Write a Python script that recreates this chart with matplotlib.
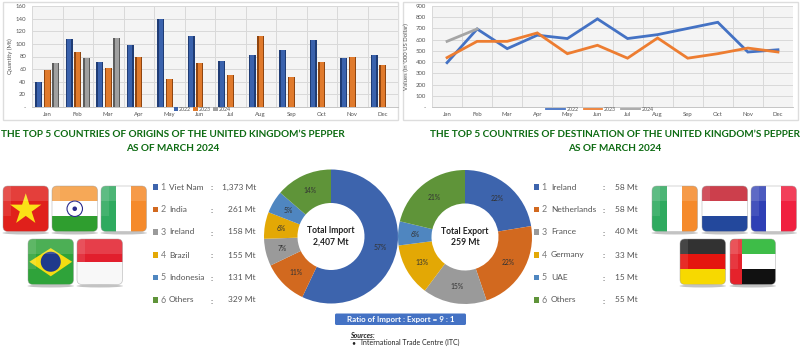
import numpy as np
import matplotlib
matplotlib.use("Agg")
import matplotlib.pyplot as plt
from matplotlib.patches import FancyBboxPatch, Rectangle, Polygon, Circle, Ellipse

plt.rcParams['font.family'] = ['Lato', 'DejaVu Sans']
plt.rcParams['hatch.linewidth'] = 0.3
plt.rcParams['hatch.color'] = '#d0d0d0'

months = ["Jan", "Feb", "Mar", "Apr", "May", "Jun", "Jul", "Aug", "Sep", "Oct", "Nov", "Dec"]

# quantity (Mt)
qty_2022 = [39, 107, 72, 98, 139, 113, 73, 83, 91, 106, 77, 82]
qty_2023 = [58, 87, 62, 80, 45, 69, 51, 113, 48, 72, 79, 67]
qty_2024 = [70, 77, 110]

# values ('000 US Dollar)
val_2022 = [395, 695, 520, 640, 610, 785, 610, 645, 700, 755, 490, 510]
val_2023 = [440, 585, 585, 660, 475, 550, 435, 615, 435, 475, 525, 490]
val_2024 = [585, 695]

import_names = ["Viet Nam", "India", "Ireland", "Brazil", "Indonesia", "Others"]
import_mt = [1373, 261, 158, 155, 131, 329]
export_names = ["Ireland", "Netherlands", "France", "Germany", "UAE", "Others"]
export_mt = [58, 58, 40, 33, 15, 55]

BLUE = "#3d64ad"
ORANGE = "#d2691f"
GRAY = "#9a9a9a"
GOLD = "#e3a805"
LBLUE = "#4f86c0"
GREEN = "#5f9439"
pie_colors = [BLUE, ORANGE, GRAY, GOLD, LBLUE, GREEN]
TITLE_GREEN = "#0d6b12"
TXT = "#555555"


def px_axes(fig, x0, y0, x1, y1, **kw):
    return fig.add_axes([x0 / 800, 1 - y1 / 360, (x1 - x0) / 800, (y1 - y0) / 360], **kw)


fig = plt.figure(figsize=(8, 3.6), dpi=100, facecolor="white")

# full figure layer in pixel coordinates, for frames, text and flags
bg = px_axes(fig, 0, 0, 800, 360)
bg.set_xlim(0, 800)
bg.set_ylim(360, 0)
bg.axis("off")

bg.add_patch(Rectangle((3, 2), 395, 118, fc="white", ec="#dddddd", lw=1))
bg.add_patch(Rectangle((403, 2), 395, 118, fc="white", ec="#dddddd", lw=1))


def style_chart(ax, ymax, step, ylabel, lpad):
    ax.set_facecolor("#f4f4f4")
    ax.add_patch(Rectangle((0, 0), 1, 1, transform=ax.transAxes, fc="none", ec="none", hatch="......", zorder=0))
    ax.set_ylim(0, ymax)
    ax.set_yticks(np.arange(0, ymax + 1, step))
    ax.set_yticklabels(["-"] + [str(v) for v in np.arange(step, ymax + 1, step)])
    ax.set_xlim(-0.5, 11.5)
    ax.set_xticks(range(12))
    ax.set_xticklabels(months)
    ax.tick_params(axis="x", length=0, labelsize=4.3, labelcolor=TXT, pad=3.6)
    ax.tick_params(axis="y", length=0, labelsize=4.3, labelcolor=TXT, pad=4.3)
    ax.set_xticks(np.arange(-0.5, 12), minor=True)
    ax.tick_params(which="minor", length=0)
    ax.grid(True, axis="y", color="#d9d9d9", lw=0.7, zorder=1)
    ax.grid(True, axis="x", which="minor", color="#d9d9d9", lw=0.7, zorder=1)
    for s in ax.spines.values():
        s.set_visible(False)
    ax.spines["bottom"].set_visible(True)
    ax.spines["bottom"].set_color("#bbbbbb")
    ax.spines["bottom"].set_linewidth(0.6)
    ax.set_ylabel(ylabel, fontsize=4.3, color=TXT, labelpad=lpad)


# bar chart
ax1 = px_axes(fig, 32, 6, 398, 107)
style_chart(ax1, 160, 20, "Quantity (Mt)", 2)
x = np.arange(12)
w = 0.23
for off, vals, face, dark, lab in [(-0.285, qty_2022, "#3a62ad", "#1f3c75", "2022"),
                                   (0, qty_2023, "#e07a2c", "#8f4510", "2023"),
                                   (0.285, qty_2024, "#a0a0a0", "#5c5c5c", "2024")]:
    xs = x[:len(vals)] + off
    ax1.bar(xs, vals, w, color=face, zorder=3, label=lab)
    # darker strips on the sides of each bar give the bevelled look
    ax1.bar(xs - w * 0.38, vals, w * 0.24, color=dark, zorder=4)
    ax1.bar(xs + w * 0.42, vals, w * 0.16, color=dark, zorder=4)
ax1.legend(loc="center", bbox_to_anchor=(0.465, -0.02), ncol=3, frameon=False, fontsize=3.8, borderpad=0,
           handlelength=0.8, handleheight=0.8, handletextpad=0.2, columnspacing=0.5, labelcolor=TXT)

# line chart
ax2 = px_axes(fig, 432, 6, 793, 107)
style_chart(ax2, 900, 100, "Values (in '000 US Dollar)", 4.5)
ax2.set_xticks(np.arange(-0.5, 12, 0.5), minor=True)
ax2.plot(range(12), val_2022, color="#4472c4", lw=2, label="2022", zorder=3, solid_joinstyle="miter")
ax2.plot(range(12), val_2023, color="#ed7d31", lw=2, label="2023", zorder=4, solid_joinstyle="miter")
ax2.plot(range(len(val_2024)), val_2024, color="#a5a5a5", lw=2, label="2024", zorder=5)
leg2 = ax2.legend(loc="center", bbox_to_anchor=(0.465, -0.025), ncol=3, frameon=False, fontsize=3.8, borderpad=0,
                  handlelength=3.5, handletextpad=0.35, columnspacing=1.0, labelcolor=TXT)
for h in leg2.get_lines():
    h.set_linewidth(1.3)

# titles
title_kw = dict(color=TITLE_GREEN, fontsize=7.2, fontweight="bold", ha="center", va="center")
bg.text(173, 134.5, "THE TOP 5 COUNTRIES OF ORIGINS OF THE UNITED KINGDOM\u2019S PEPPER", **title_kw)
bg.text(173, 148.5, "AS OF MARCH 2024", **title_kw)
bg.text(615, 134.5, "THE TOP 5 COUNTRIES OF DESTINATION OF THE UNITED KINGDOM\u2019S PEPPER", **title_kw)
bg.text(615, 148.5, "AS OF MARCH 2024", **title_kw)


def donut(cx, cy, r, mt, total_txt):
    ax = px_axes(fig, cx - r, cy - r, cx + r, cy + r)
    ax.pie(mt, colors=pie_colors, startangle=90, counterclock=False, radius=1,
           wedgeprops=dict(width=0.5, edgecolor="none"),
           autopct=lambda p: "%.0f%%" % p, pctdistance=0.75,
           textprops=dict(fontsize=4.9, color="#333333"))
    ax.set_xlim(-1, 1)
    ax.set_ylim(-1, 1)
    ax.text(0, 0, total_txt, ha="center", va="center", fontsize=6.2, fontweight="bold", color="#222222",
            linespacing=1.3)


donut(331, 236.5, 67, import_mt, "Total Import\n2,407 Mt")
donut(465, 237, 67, export_mt, "Total Export\n259 Mt")


def legend_col(names, mt, xsq, xname, xcolon, xval):
    rows = [187, 209.5, 232, 255, 277.5, 300]
    for i, (n, v) in enumerate(zip(names, mt)):
        y = rows[i]
        bg.add_patch(Rectangle((xsq, y - 2.7), 5.4, 5.4, fc=pie_colors[i], ec="none"))
        bg.text(xsq + 7.5, y + 0.5, str(i + 1), fontsize=6.4, color="#777777", ha="left", va="center")
        bg.text(xname, y, n, fontsize=6.0, color=TXT, ha="left", va="center")
        bg.text(xcolon, y + 1, ":", fontsize=6.0, color=TXT, ha="center", va="center")
        bg.text(xval, y, f"{v:,} Mt", fontsize=6.0, color=TXT, ha="right", va="center")


legend_col(import_names, import_mt, 153, 169, 212, 256)
legend_col(export_names, export_mt, 534, 551, 604, 638)

# ratio box and sources
bg.add_patch(FancyBboxPatch((335, 313.5), 131, 11.5, boxstyle="round,pad=0,rounding_size=1.5", fc="#4472c4", ec="none"))
bg.text(400.5, 319.5, "Ratio of Import : Export = 9 : 1", color="white", fontsize=5.8, fontweight="bold",
        ha="center", va="center")
bg.text(350, 335, "Sources:", fontsize=5.0, fontweight="bold", fontstyle="italic", color="#222222",
        ha="left", va="center")
bg.plot([350, 374], [338.5, 338.5], color="#222222", lw=0.4)
bg.text(351, 342.5, "\u2022", fontsize=5.0, color="#222222", ha="left", va="center")
bg.text(361, 342.5, "International Trade Centre (ITC)", fontsize=5.0, color="#222222", ha="left", va="center")


# flags: drawn in pixel coordinates on the background layer
def flag(x0, y0, draw, s=45.5):
    bg.add_patch(Ellipse((x0 + s / 2, y0 + s + 1.5), s * 1.02, 3, fc="#aaaaaa", ec="none", alpha=0.7))
    clip = FancyBboxPatch((x0, y0), s, s, boxstyle="round,pad=0,rounding_size=5", fc="none", ec="none")
    bg.add_patch(clip)
    parts = draw(x0, y0, s)
    # gloss on the upper part and the left edge
    parts.append(Rectangle((x0, y0), s, s * 0.33, fc="white", ec="none", alpha=0.14))
    parts.append(Rectangle((x0, y0), s * 0.18, s * 0.66, fc="white", ec="none", alpha=0.1))
    for p in parts:
        bg.add_patch(p)
        p.set_clip_path(clip)
    bg.add_patch(FancyBboxPatch((x0, y0), s, s, boxstyle="round,pad=0,rounding_size=5", fc="none", ec="#9a9a9a",
                                lw=0.5, alpha=0.6))


def hbands(colors):
    def draw(x, y, s):
        h = s / len(colors)
        return [Rectangle((x, y + i * h), s, h + 0.3, fc=c, ec="none") for i, c in enumerate(colors)]
    return draw


def vbands(colors):
    def draw(x, y, s):
        return [Rectangle((x + s * i / len(colors), y), s / len(colors) + 0.3, s, fc=c, ec="none")
                for i, c in enumerate(colors)]
    return draw


def star_pts(cx, cy, r):
    a = np.deg2rad(np.arange(10) * 36 - 90)
    rr = np.where(np.arange(10) % 2 == 0, r, r * 0.38)
    return np.c_[cx + rr * np.cos(a), cy + rr * np.sin(a)]


def vietnam(x, y, s):
    return [Rectangle((x, y), s, s, fc="#e0201b", ec="none"),
            Polygon(star_pts(x + s / 2, y + s * 0.52, s * 0.36), fc="#fbe116", ec="none")]


def india(x, y, s):
    out = hbands(["#f59a3c", "#ffffff", "#2f9e2f"])(x, y, s)
    out.append(Circle((x + s / 2, y + s / 2), s * 0.17, fc="white", ec="#2b2b8c", lw=0.8))
    out.append(Circle((x + s / 2, y + s / 2), s * 0.05, fc="#2b2b8c", ec="none"))
    return out


def brazil(x, y, s):
    return [Rectangle((x, y), s, s, fc="#2fa33a", ec="none"),
            Polygon([(x + s * 0.03, y + s / 2), (x + s / 2, y + s * 0.2), (x + s * 0.97, y + s / 2),
                     (x + s / 2, y + s * 0.82)], fc="#f4dc12", ec="none"),
            Circle((x + s / 2, y + s / 2), s * 0.22, fc="#1f3a8c", ec="none")]


def uae(x, y, s):
    return [Rectangle((x, y), s, s / 3 + 0.3, fc="#1fb32a", ec="none"),
            Rectangle((x, y + s / 3), s, s / 3 + 0.3, fc="white", ec="none"),
            Rectangle((x, y + 2 * s / 3), s, s / 3, fc="#111111", ec="none"),
            Rectangle((x, y), s * 0.27, s, fc="#e5222b", ec="none")]


flag(3, 186, vietnam)
flag(52, 186, india)
flag(101, 186, vbands(["#2faa5f", "#ffffff", "#f58a2b"]))
flag(28, 239, brazil)
flag(77, 239, hbands(["#e21f2d", "#f8f8f8"]))
flag(652, 186, vbands(["#2faa5f", "#ffffff", "#f58a2b"]))
flag(702, 186, hbands(["#c4202f", "#ffffff", "#23489c"]))
flag(751, 186, vbands(["#2f3fb5", "#ffffff", "#f0203f"]))
flag(680, 239, hbands(["#111111", "#e5150f", "#f7d900"]))
flag(730, 239, uae)

fig.savefig("out.png", dpi=100)
